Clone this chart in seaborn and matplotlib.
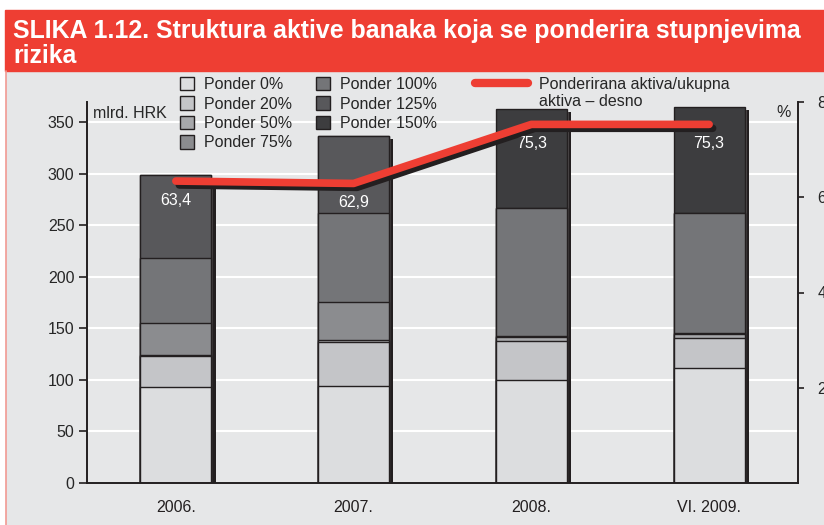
import numpy as np
import seaborn as sns
import matplotlib.pyplot as plt
import matplotlib.patheffects as pe
from matplotlib.patches import Rectangle, Patch
from matplotlib.lines import Line2D

# data (mlrd. HRK)
years = ['2006.', '2007.', '2008.', 'VI. 2009.']
p0 = [92.8, 94.3, 99.9, 111.2]
p20 = [30.3, 42.1, 38.1, 29.7]
p50 = [1.0, 2.5, 3.5, 3.5]
p75 = [30.7, 36.3, 1.5, 1.3]
p100 = [63.1, 87.0, 124.0, 116.4]
p125 = [80.7, 74.6, 0.0, 0.0]
p150 = [0.0, 0.0, 96.0, 102.8]
ratio = [63.4, 62.9, 75.3, 75.3]  # ponderirana/ukupna aktiva, %

labels = ['Ponder 0%', 'Ponder 20%', 'Ponder 50%', 'Ponder 75%',
          'Ponder 100%', 'Ponder 125%', 'Ponder 150%']
colors = ['#dcdddf', '#c4c5c8', '#a7a8ab', '#8b8c8f', '#747578', '#58585b', '#3d3d3f']

BG = '#e6e7e8'
RED = '#ee3e33'
DARK = '#231f20'

sns.set_style('white', {'axes.facecolor': BG, 'grid.color': 'white'})
plt.rcParams['font.family'] = ['Liberation Sans', 'DejaVu Sans']

fig = plt.figure(figsize=(8.24, 5.25), dpi=100)
W, H = 824, 525
# frame decoration
fig.patches.append(Rectangle((6 / W, 0), 1, 1 - 71 / H, transform=fig.transFigure,
                             color=BG, zorder=-2))
fig.patches.append(Rectangle((5 / W, 1 - 71 / H), 1, 61 / H, transform=fig.transFigure,
                             color=RED, zorder=-2))
fig.lines.append(Line2D([5.5 / W, 5.5 / W], [0, 1 - 71 / H], transform=fig.transFigure,
                        color='#f29a93', lw=1.2))
fig.text(13 / W, 1 - 38 / H, 'SLIKA 1.12. Struktura aktive banaka koja se ponderira stupnjevima',
         color='white', fontsize=17.9, fontweight='bold', va='baseline', ha='left')
fig.text(13 / W, 1 - 63 / H, 'rizika',
         color='white', fontsize=17.9, fontweight='bold', va='baseline', ha='left')

ax = fig.add_axes([87 / W, 1 - 483 / H, (798 - 87) / W, (483 - 102) / H])

layers = [p0, p20, p50, p75, p100, p125, p150]
cum = np.cumsum(np.array(layers), axis=0)

# shadow behind the full stack
sns.barplot(x=years, y=cum[-1], color=DARK, width=0.4, saturation=1, errorbar=None,
            ax=ax, zorder=1)
for p in ax.patches:
    p.set_path_effects([pe.SimplePatchShadow(offset=(3.0, -2.5), shadow_rgbFace=DARK, alpha=1),
                        pe.Normal()])

# stacked segments: draw cumulative totals from top to bottom
for i in range(len(layers) - 1, -1, -1):
    sns.barplot(x=years, y=cum[i], color=colors[i], width=0.4, saturation=1, errorbar=None,
                edgecolor=DARK, linewidth=1.0, ax=ax, zorder=2)

ax.set_xlim(-0.5, 3.5)
ax.set_ylim(0, 369.4)
ax.set_yticks(np.arange(0, 351, 50))
ax.yaxis.grid(True, color='white', lw=1.5)
ax.set_axisbelow(True)
ax.set_xticks(range(len(years)))
ax.set_xticklabels(years, family=['Liberation Sans Narrow', 'Liberation Sans'])
ax.set_xticks(np.arange(-0.5, 3.6, 1), minor=True)
ax.tick_params(axis='x', which='major', length=0, pad=12, labelsize=11.5, colors='#231f20')
ax.tick_params(axis='x', which='minor', length=8, width=1, color='#555555', direction='out')
ax.tick_params(axis='y', length=6, width=1.2, pad=3, labelsize=11.5, left=True,
               direction='out', color=DARK)
ax.set_xlabel('')
ax.set_ylabel('')
for s in ['top', 'right']:
    ax.spines[s].set_visible(False)
for s in ['left', 'bottom']:
    ax.spines[s].set_color(DARK)
    ax.spines[s].set_linewidth(1.4)
ax.text(0.008, 0.97, 'mlrd. HRK', transform=ax.transAxes, fontsize=11.5, va='center', ha='left')

# right axis with the ratio line
ax2 = ax.twinx()
sns.lineplot(x=np.arange(len(years)), y=ratio, ax=ax2, color=RED, lw=5.5, sort=False,
             path_effects=[pe.SimpleLineShadow(offset=(2.5, -2.8), shadow_color=DARK, alpha=1),
                           pe.Normal()], zorder=5)
ax2.set_ylim(0, 80)
ax2.set_yticks([20, 40, 60, 80])
ax2.tick_params(axis='y', length=4, width=1.2, pad=10, labelsize=11.5, right=True,
                direction='out', color=DARK)
ax2.grid(False)
for s in ['top', 'left', 'bottom']:
    ax2.spines[s].set_visible(False)
ax2.spines['right'].set_color(DARK)
ax2.spines['right'].set_linewidth(1.4)
ax2.set_xlim(-0.5, 3.5)
ax2.text(0.979, 0.972, '%', transform=ax2.transAxes, fontsize=11.5, va='center', ha='center')
for i, v in enumerate(ratio):
    ax2.annotate(f'{v:.1f}'.replace('.', ','), (i, v), xytext=(0, -14),
                 textcoords='offset points', ha='center', va='center',
                 color='white', fontsize=11.5)

# legends
handles = [Patch(facecolor=c, edgecolor=DARK, lw=1) for c in colors]
fig.legend(handles, labels, ncol=2, loc='upper left', bbox_to_anchor=(180 / W, 1 - 77 / H),
           frameon=False, fontsize=11.5, handlelength=0.9, handleheight=0.9,
           handletextpad=0.6, labelspacing=0.27, columnspacing=1.5, borderpad=0,
           borderaxespad=0)
fig.legend([Line2D([0], [0], color=RED, lw=6)], ['Ponderirana aktiva/ukupna'],
           loc='upper left', bbox_to_anchor=(475 / W, 1 - 77 / H), frameon=False,
           fontsize=11.5, handlelength=3.3, handletextpad=0.7, borderpad=0, borderaxespad=0)
fig.text(539 / W, 1 - 102 / H, 'aktiva – desno', fontsize=11.5, va='center', ha='left')

fig.savefig('out.png', dpi=100, facecolor='white')
